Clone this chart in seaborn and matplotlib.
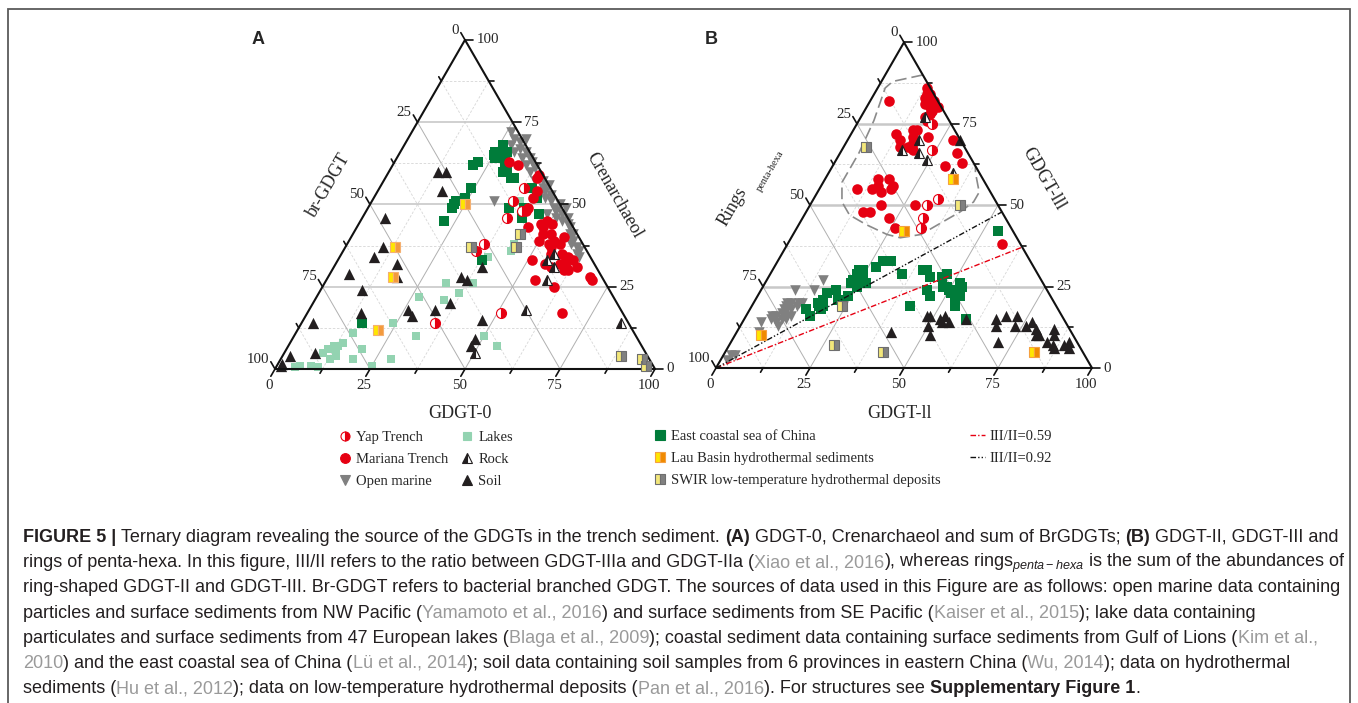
import numpy as np
import pandas as pd
import matplotlib
matplotlib.use("Agg")
import matplotlib.pyplot as plt
import seaborn as sns
from matplotlib.lines import Line2D
from matplotlib.patches import Rectangle

# values, in percent
# panel A: (GDGT-0, Crenarchaeol); br-GDGT is the remainder
a_open_marine = [(26, 72), (28, 70), (30, 69), (28, 68), (31, 67), (30, 66), (33, 66), (35, 64), (33, 64),
                 (36, 63), (35, 62), (38, 61), (37, 60), (40, 57), (42, 57), (43, 55), (44, 54), (46, 53),
                 (45, 52), (47, 51), (49, 49), (50, 50), (50, 48), (52, 47), (51, 46), (53, 45), (54, 46),
                 (55, 44), (56, 43), (57, 41), (58, 41), (59, 39), (59, 38), (61, 37), (62, 36), (62, 35),
                 (48, 47), (32, 51), (31, 70), (43, 53), (52, 49), (44, 56), (63, 34)]
a_lakes = [(6, 1), (5, 0.5), (9, 1), (11, 0.5), (10, 5), (11, 6), (13, 3), (14, 4), (13, 6), (13, 7), (14, 8),
           (12, 7), (15, 11), (19, 3), (20, 6), (25, 1), (29, 3), (24, 14), (32, 10), (27, 22), (34, 21),
           (32, 26), (37, 23), (39, 26), (39, 34), (50, 10), (55, 7), (44, 36), (44, 38), (39, 51)]
a_coastal = [(26, 68), (25, 65), (25, 66), (26, 64), (27, 65), (28, 66), (29, 63), (30, 60), (31, 60),
             (33, 58), (34, 58), (40, 55), (43, 52), (42, 46), (41, 49), (46, 47), (21, 62), (22, 63),
             (24, 55), (24, 52), (22, 51), (22, 49), (22, 50), (22, 45), (37, 49), (38, 33), (16, 14)]
a_mariana = [(30, 63), (33, 62), (40, 59), (40, 58), (42, 54), (42, 52), (42, 49), (42, 48), (45, 43),
             (48, 44), (49, 43), (49, 45), (51, 44), (50, 41), (50, 39), (52, 41), (54, 39), (56, 40),
             (53, 38), (54, 37), (56, 38), (58, 35), (55, 35), (51, 33), (55, 32), (57, 31), (59, 32),
             (60, 33), (60, 34), (62, 33), (61, 31), (61, 30), (62, 30), (64, 31), (69, 28), (70, 27),
             (55, 27), (61, 25), (67, 17)]
a_yap = [(38, 55), (37, 51), (38, 46), (41, 48), (36, 38), (35, 36), (51, 17), (35, 14)]
a_soil = [(13, 60), (15, 60), (17, 54), (6, 46), (10, 37), (9, 34), (16, 32), (5, 29), (11, 24), (18, 28),
          (14, 17), (3, 14), (8, 5), (2, 4), (1, 1.5), (1, 1), (26, 18), (28, 16), (33, 18), (36, 20),
          (35, 28), (37, 27), (39, 31), (47, 15), (48, 9), (48, 7)]
a_rock = [(55, 33), (56, 35), (58, 31), (58, 27), (57, 18), (50, 5), (84, 14)]
a_lau = [(25, 50), (13, 37), (17, 28), (21, 12)]
a_swir = [(44, 41), (45, 37), (33, 37), (89, 4), (95, 3), (97, 1)]

# panel B: (GDGT-II, GDGT-III); rings penta-hexa is the remainder
b_mariana = [(5, 82), (13, 86), (14, 84), (15, 84), (14, 83), (16, 82), (17, 82), (15, 81), (17, 81),
             (18, 80), (19, 80), (17, 80), (18, 79), (18, 78), (17, 77), (18, 76), (12, 72), (16, 73),
             (17, 73), (17, 71), (21, 71), (14, 70), (15, 68), (17, 68), (18, 69), (19, 67), (28, 70),
             (31, 66), (34, 63), (30, 62), (14, 58), (17, 58), (19, 56), (15, 56), (14, 55), (17, 54),
             (10, 55), (19, 55), (15, 48), (17, 48), (19, 50), (23, 46), (26, 43), (28, 50), (57, 38)]
b_yap = [(24, 67), (20, 75), (31, 50), (33, 52), (32, 46), (33, 43)]
b_rock = [(17, 77), (19, 70), (16, 67), (21, 66), (24, 64), (33, 60)]
b_soil = [(30, 70), (48, 16), (49, 16), (50, 13), (52, 10), (52, 15), (53, 14), (53, 16), (55, 14),
          (59, 15), (67, 15), (69, 16), (72, 16), (68, 13), (73, 13), (76, 13), (77, 14), (79, 12),
          (81, 10), (80, 10), (84, 12), (85, 10), (84, 8), (86, 7), (87, 6), (89, 7), (90, 8), (91, 6),
          (71, 8), (41, 11)]
b_coastal = [(15, 18), (17, 16), (17, 20), (18, 21), (18, 19), (18, 23), (19, 19), (20, 24), (22, 21),
             (24, 22), (23, 26), (23, 27), (23, 29), (23, 30), (24, 30), (25, 28), (25, 27), (25, 25),
             (27, 26), (27, 31), (28, 33), (30, 33), (35, 29), (42, 19), (40, 30), (41, 30), (19, 18),
             (54, 42), (43, 28), (46, 28), (47, 29), (48, 25), (49, 25), (52, 24), (53, 25), (52, 26),
             (51, 23), (53, 22), (54, 22), (54, 19), (44, 24), (46, 22), (59, 15), (50, 24), (53, 21)]
b_open_marine = [(9, 24), (14, 24), (15, 27), (9, 19), (9, 20), (10, 20), (12, 20), (13, 20), (9, 18),
                 (10, 18), (11, 18), (12, 19), (9, 17), (10, 16), (12, 16), (8, 16), (10, 15), (9, 14),
                 (10, 13), (11, 15), (5, 14), (6, 11), (2, 4), (3, 4), (1.5, 2.6), (7, 16), (7, 15)]
b_lau = [(34, 58), (29, 42), (7, 10), (82, 5)]
b_swir = [(6, 68), (40, 50), (24, 19), (28, 7), (42, 5)]
b_envelope = [(10, 90), (3, 88), (2, 86), (4, 76), (5, 66), (5, 60), (5, 57), (8, 51), (12, 47), (18, 44),
              (25, 41), (29, 40), (34, 41), (37, 44), (41, 48), (43, 51), (43, 54), (39, 60), (38, 62)]
ratios = [0.59, 0.92]

sns.set_style("white")
plt.rcParams["font.family"] = ["Liberation Serif", "DejaVu Serif"]
plt.rcParams["mathtext.fontset"] = "custom"
plt.rcParams["mathtext.rm"] = "Liberation Sans"
plt.rcParams["mathtext.it"] = "Liberation Sans:italic"

RED = "#e60012"
GREEN = "#007c3a"
LAKE = "#93d3b1"
GREY = "#808080"
BLACK = "#231f20"
YEL = "#ffe600"
ORANGE = "#f39a3c"
PALEY = "#f3e77a"

W, H = 1358, 703
S3 = np.sqrt(3) / 2
fig = plt.figure(figsize=(W / 100, H / 100), dpi=100)


def txy(pts):
    p = np.asarray(pts, dtype=float) / 100
    return p[:, 0] + p[:, 1] / 2, p[:, 1] * S3


def tern_axes(x0, y0, L):
    lo, hi, bot, top = -0.25, 1.25, -0.2, 1.0
    ax = fig.add_axes([(x0 + lo * L) / W, (H - y0 + bot * L) / H, (hi - lo) * L / W, (top - bot) * L / H])
    ax.set_xlim(lo, hi)
    ax.set_ylim(bot, top)
    ax.axis("off")
    return ax


def frame(ax, hlw):
    for v in np.arange(12.5, 100, 12.5):
        major = v % 25 == 0
        segs = [[(v, 0), (v, 100 - v)], [(0, v), (100 - v, v)], [(100 - v, 0), (0, 100 - v)]]
        for k, seg in enumerate(segs):
            x, y = txy(seg)
            if not major:
                ax.plot(x, y, color="#d6d6d6", lw=0.6, ls=(0, (3, 2)), zorder=0.5)
            elif k == 1:
                ax.plot(x, y, color="#c8c8c8", lw=hlw, zorder=0.5)
            else:
                ax.plot(x, y, color="#b0b0b0", lw=0.7, zorder=0.5)
    x, y = txy([(0, 0), (100, 0), (0, 100), (0, 0)])
    ax.plot(x, y, color="#111111", lw=1.5, zorder=3)
    for v in np.arange(0, 100.1, 12.5):
        ln = 0.022 if v % 25 == 0 else 0.013
        spec = [((v, 0), (-0.5, -S3), "center", "top"),
                ((100 - v, v), (1, 0), "left", "center"),
                ((0, 100 - v), (-0.5, S3), "right", "center")]
        for pt, d, ha, va in spec:
            x, y = txy([pt])
            x, y = x[0], y[0]
            ax.plot([x, x + ln * d[0]], [y, y + ln * d[1]], color="#111111", lw=1.2, zorder=3)
            if v % 25 == 0:
                ax.text(x + 0.03 * d[0], y + 0.03 * d[1], f"{int(v)}", ha=ha, va=va, fontsize=10.7)


def dots(ax, pts, color, marker, s):
    x, y = txy(pts)
    sns.scatterplot(x=x, y=y, ax=ax, color=color, marker=marker, s=s, linewidth=0, zorder=2)


def halves(ax, pts, marker, ms, fill, face, alt, edge, mew=0.8):
    x, y = txy(pts)
    ax.plot(x, y, ls="none", marker=marker, ms=ms, fillstyle=fill, markerfacecolor=face,
            markerfacecoloralt=alt, markeredgecolor=edge, markeredgewidth=mew, zorder=4)


# panel A
axA = tern_axes(275, 369, 380)
frame(axA, 1.2)
dots(axA, a_open_marine, GREY, "v", 58)
dots(axA, a_lakes, LAKE, "s", 34)
dots(axA, a_coastal, GREEN, "s", 42)
dots(axA, a_mariana, RED, "o", 58)
dots(axA, a_soil, BLACK, "^", 66)
halves(axA, a_yap, "o", 7.2, "right", RED, "white", RED)
halves(axA, a_rock, "^", 7.8, "left", BLACK, "white", BLACK)
halves(axA, a_lau, "s", 7.6, "left", YEL, ORANGE, "#f5b070")
halves(axA, a_swir, "s", 7.6, "left", PALEY, GREY, "#6e6e6e")
axA.text(0.487, -0.116, "GDGT-0", ha="center", va="center", fontsize=13)
axA.text(0.142, 0.484, "br-GDGT", ha="center", va="center", rotation=60, fontsize=13)
axA.text(0.893, 0.458, "Crenarchaeol", ha="center", va="center", rotation=-60, fontsize=13)

# panel B
axB = tern_axes(716, 368, 376)
frame(axB, 1.8)
axB.plot(*txy(b_envelope), color="#8a8a8a", lw=1.2, ls=(0, (7, 3)), zorder=1.5)
dots(axB, b_open_marine, GREY, "v", 58)
dots(axB, b_coastal, GREEN, "s", 42)
dots(axB, b_mariana, RED, "o", 58)
dots(axB, b_soil, BLACK, "^", 66)
halves(axB, b_yap, "o", 7.2, "right", RED, "white", RED)
halves(axB, b_rock, "^", 7.8, "left", BLACK, "white", BLACK)
halves(axB, b_lau, "s", 7.6, "left", YEL, "#f08a00", "#f5a040")
halves(axB, b_swir, "s", 7.6, "left", PALEY, GREY, "#6e6e6e")
dash = {0.59: (RED, (0, (4, 1.5, 1, 1.5))), 0.92: ("#111111", (0, (4, 1.5, 1, 1.5, 1, 1.5)))}
for r in ratios:
    col, ls = dash[r]
    x, y = txy([(0, 0), (100 / (1 + r), 100 * r / (1 + r))])
    axB.plot(x, y, color=col, lw=1.0, ls=ls, zorder=2.5)
axB.text(0.489, -0.12, "GDGT-ll", ha="center", va="center", fontsize=13)
axB.text(0.045, 0.428, "Rings", ha="center", va="center", rotation=60, fontsize=13)
axB.text(0.145, 0.525, "penta-hexa", ha="center", va="center", rotation=60, fontsize=7.5)
axB.text(0.872, 0.503, "GDGT-lll", ha="center", va="center", rotation=-60, fontsize=13)

for ax in (axA, axB):
    ax.set_xlim(-0.25, 1.25)
    ax.set_ylim(-0.2, 1.0)

fig.text(258 / W, 1 - 40 / H, "A", family="Liberation Sans", weight="bold", fontsize=13, ha="center", va="center")
fig.text(711 / W, 1 - 40 / H, "B", family="Liberation Sans", weight="bold", fontsize=13, ha="center", va="center")


# legend
def key(handles, labels, x, y, hl=0.9):
    fig.legend(handles, labels, loc="upper left", bbox_to_anchor=(x / W, 1 - y / H), frameon=False,
               fontsize=10.5, handlelength=hl, handletextpad=0.35, labelspacing=0.6,
               borderpad=0, borderaxespad=0)


def mk(marker, ms, face, edge, fill="full", alt="none", mew=0.8):
    return Line2D([], [], ls="none", marker=marker, ms=ms, markerfacecolor=face, markeredgecolor=edge,
                  fillstyle=fill, markerfacecoloralt=alt, markeredgewidth=mew)


key([mk("o", 6.5, RED, RED, "right", "white"), mk("o", 7, RED, RED), mk("v", 7, GREY, GREY)],
    ["Yap Trench", "Mariana Trench", "Open marine"], 338, 431)
key([mk("s", 6, LAKE, LAKE), mk("^", 7, BLACK, BLACK, "left", "white"), mk("^", 7, BLACK, BLACK)],
    ["Lakes", "Rock", "Soil"], 460, 431)
key([mk("s", 6.5, GREEN, GREEN), mk("s", 7, YEL, "#f5a040", "left", "#f08a00"),
     mk("s", 7, PALEY, "#6e6e6e", "left", GREY)],
    ["East coastal sea of China", "Lau Basin hydrothermal sediments", "SWIR low-temperature hydrothermal deposits"],
    653, 430)
key([Line2D([], [], color=RED, lw=1.0, ls=dash[0.59][1]), Line2D([], [], color="#111111", lw=1.0, ls=dash[0.92][1])],
    ["III/II=0.59", "III/II=0.92"], 970, 430, hl=1.0)

fig.add_artist(Rectangle((8 / W, -0.05), 1342 / W, 1.05 - 9 / H, transform=fig.transFigure,
                         fill=False, ec="#5a5a5a", lw=1.3))

# caption
cap = [
    [("FIGURE 5 |", "b"), (" Ternary diagram revealing the source of the GDGTs in the trench sediment. ", "n"),
     ("(A)", "b"), (" GDGT-0, Crenarchaeol and sum of BrGDGTs; ", "n"), ("(B)", "b"), (" GDGT-II, GDGT-III and", "n")],
    [("rings of penta-hexa. In this figure, III/II refers to the ratio between GDGT-IIIa and GDGT-IIa (", "n"),
     ("Xiao et al., 2016", "g"), ("), whereas rings$_{penta-hexa}$ is the sum of the abundances of", "n")],
    [("ring-shaped GDGT-II and GDGT-III. Br-GDGT refers to bacterial branched GDGT. The sources of data used in this Figure are as follows: open marine data containing", "n")],
    [("particles and surface sediments from NW Pacific (", "n"), ("Yamamoto et al., 2016", "g"),
     (") and surface sediments from SE Pacific (", "n"), ("Kaiser et al., 2015", "g"), ("); lake data containing", "n")],
    [("particulates and surface sediments from 47 European lakes (", "n"), ("Blaga et al., 2009", "g"),
     ("); coastal sediment data containing surface sediments from Gulf of Lions (", "n"), ("Kim et al.,", "g")],
    [("2010", "g"), (") and the east coastal sea of China (", "n"), ("Lü et al., 2014", "g"),
     ("); soil data containing soil samples from 6 provinces in eastern China (", "n"), ("Wu, 2014", "g"),
     ("); data on hydrothermal", "n")],
    [("sediments (", "n"), ("Hu et al., 2012", "g"), ("); data on low-temperature hydrothermal deposits (", "n"),
     ("Pan et al., 2016", "g"), ("). For structures see ", "n"), ("Supplementary Figure 1", "b"), (".", "n")],
]


def caption_line(runs, x, y, size, draw=True):
    r = fig.canvas.get_renderer()
    for text, style in runs:
        kw = dict(fontsize=size, family="Liberation Sans", va="baseline",
                  weight="bold" if style == "b" else "normal",
                  color="#9a9a9a" if style == "g" else "#231f20")
        t1 = fig.text(0, 0, "x x", **kw)
        t2 = fig.text(0, 0, "xx", **kw)
        space = t1.get_window_extent(r).width - t2.get_window_extent(r).width
        t1.remove()
        t2.remove()
        lead = len(text) - len(text.lstrip(" "))
        trail = len(text) - len(text.rstrip(" "))
        x += lead * space
        t = fig.text(x / W, 1 - y / H, text.strip(" "), **kw)
        x += t.get_window_extent(r).width + trail * space
        if not draw:
            t.remove()
    return x


size = 12 * 1317 / (caption_line(cap[0], 23, 542, 12, draw=False) - 23)
for i, runs in enumerate(cap):
    caption_line(runs, 23, 542 + 25.2 * i, size)

fig.savefig("out.png", dpi=100)
